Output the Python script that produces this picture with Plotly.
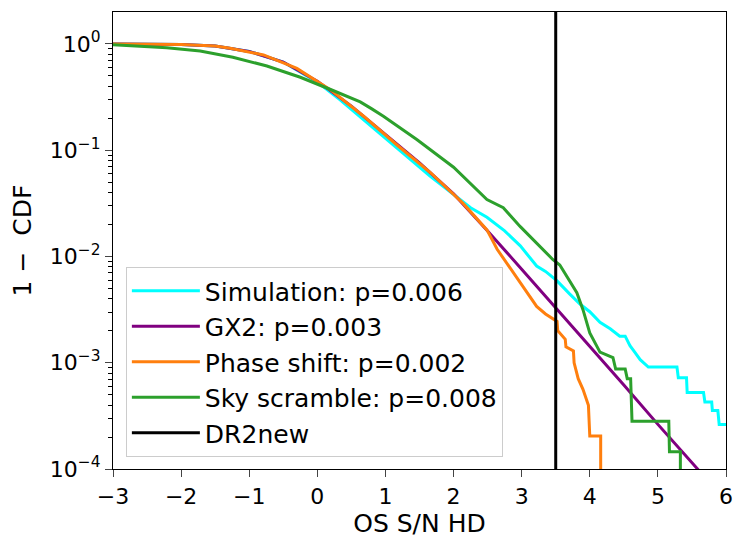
import plotly.graph_objects as go

# Simulation (cyan)
sim_x = [-3.0, -2.5, -2.0, -1.5, -1.0, -0.5, 0.0, 0.33, 0.68, 1.17, 1.65, 2.0, 2.25, 2.49, 2.75,
         2.98, 3.1, 3.22, 3.35, 3.52, 3.70, 3.86, 4.0, 4.15, 4.30, 4.44, 4.52, 4.59, 4.66, 4.74,
         4.86, 5.28, 5.30, 5.42, 5.43, 5.67, 5.69, 5.79, 5.80, 5.88, 5.90, 6.05]
sim_y = [1.0, 0.998, 0.989, 0.955, 0.851, 0.676, 0.437, 0.299, 0.195, 0.105, 0.0575, 0.038, 0.0288,
         0.0234, 0.0174, 0.0126, 0.01, 0.00813, 0.00724, 0.00589, 0.00447, 0.00355, 0.00302, 0.0024,
         0.00209, 0.00178, 0.00178, 0.00145, 0.00126, 0.00107, 0.000912, 0.000912, 0.000724,
         0.000724, 0.000525, 0.000525, 0.000427, 0.000427, 0.000355, 0.000355, 0.000263, 0.000263]

# GX2 (purple)
gx2_x = [-3.0, -2.5, -2.0, -1.5, -1.0, -0.5, 0.0, 0.5, 1.0, 1.5, 2.0, 2.5, 3.0, 3.5, 4.0, 4.5,
         5.0, 5.55, 6.0]
gx2_y = [1.0, 0.998, 0.989, 0.955, 0.851, 0.676, 0.447, 0.26, 0.1396, 0.0759, 0.0389, 0.0174,
         0.00759, 0.00331, 0.00141, 0.000617, 0.000263, 0.000105, 5.0e-5]

# Phase shift (orange)
phase_x = [-3.0, -2.5, -2.0, -1.5, -1.28, -0.79, -0.30, 0.19, 0.68, 1.17, 1.66, 2.14, 2.49, 2.64,
           2.80, 2.98, 3.10, 3.22, 3.35, 3.46, 3.52, 3.53, 3.64, 3.65, 3.76, 3.77, 3.83, 3.90,
           3.93, 3.98, 4.00, 4.16, 4.16]
phase_y = [1.0, 0.998, 0.989, 0.955, 0.910, 0.789, 0.589, 0.372, 0.209, 0.112, 0.0617, 0.0316,
           0.0178, 0.0117, 0.00832, 0.00575, 0.00437, 0.00339, 0.00288, 0.00257, 0.00245, 0.0020,
           0.00166, 0.00141, 0.00129, 0.0010, 0.000708, 0.000562, 0.00049, 0.000398, 0.000204,
           0.000204, 1e-6]

# Sky scramble (green)
sky_x = [-3.0, -2.21, -1.72, -1.24, -0.74, -0.25, 0.23, 0.45, 0.63, 0.80, 0.97, 1.46, 2.0, 2.49,
         2.73, 2.98, 3.22, 3.46, 3.56, 3.66, 3.81, 3.90, 4.0, 4.15, 4.34, 4.38, 4.52, 4.55, 4.60,
         4.62, 5.16, 5.17, 5.33, 5.33]
sky_y = [0.982, 0.923, 0.859, 0.75, 0.621, 0.486, 0.365, 0.32, 0.285, 0.245, 0.209, 0.126, 0.0692,
         0.0343, 0.0288, 0.0191, 0.0135, 0.00933, 0.00832, 0.00661, 0.00457, 0.00316, 0.00191,
         0.00126, 0.00112, 0.000871, 0.000871, 0.000708, 0.000708, 0.000282, 0.000282, 0.000145,
         0.000145, 1e-6]

dr2_value = 3.5

y_tickvals = [1e-4, 1e-3, 1e-2, 1e-1, 1]
y_ticktext = ["10<sup>−4</sup>", "10<sup>−3</sup>", "10<sup>−2</sup>", "10<sup>−1</sup>", "10<sup>0</sup>"]
y_minor = [m * 10 ** e for e in range(-4, 0) for m in range(2, 10)]

font_family = "DejaVu Sans"

fig = go.Figure()
series = [
    ("Simulation: p=0.006", sim_x, sim_y, "#00ffff"),
    ("GX2: p=0.003", gx2_x, gx2_y, "#800080"),
    ("Phase shift: p=0.002", phase_x, phase_y, "#ff7f0e"),
    ("Sky scramble: p=0.008", sky_x, sky_y, "#2ca02c"),
]
for name, xs, ys, col in series:
    fig.add_trace(go.Scatter(x=xs, y=ys, mode="lines", name=name, legendgroup=name,
                             line=dict(color=col, width=3)))
fig.add_trace(go.Scatter(x=[dr2_value, dr2_value], y=[1e-6, 10], mode="lines", name="DR2new",
                         legendgroup="DR2new", line=dict(color="black", width=3)))

# page body adds an 8px offset, so margins are shifted to compensate
fig.update_layout(
    width=747, height=548,
    margin=dict(l=105, r=29, t=4, b=87),
    plot_bgcolor="white", paper_bgcolor="white",
    font=dict(family=font_family, size=22, color="black"),
    showlegend=True,
    legend=dict(x=0.021, y=0.026, xanchor="left", yanchor="bottom",
                bgcolor="rgba(255,255,255,0.8)", bordercolor="#cccccc", borderwidth=1,
                font=dict(size=25), tracegroupgap=0, itemwidth=68),
    xaxis=dict(range=[-3, 6], dtick=1, ticks="outside", ticklen=7, tickwidth=1.3,
               showline=True, linecolor="black", linewidth=1.3, mirror=True,
               showgrid=False, zeroline=False, automargin=False,
               title=dict(text="OS S/N HD", font=dict(size=25), standoff=6)),
    yaxis=dict(type="log", range=[-4, 0.301], tickvals=y_tickvals, ticktext=y_ticktext,
               ticks="outside", ticklen=7, tickwidth=1.3,
               minor=dict(tickvals=y_minor, ticks="outside", ticklen=4, tickwidth=1, tickcolor="black"),
               showline=True, linecolor="black", linewidth=1.3, mirror=True,
               showgrid=False, zeroline=False, automargin=False,
               title=dict(text="1 −  CDF", font=dict(size=25), standoff=12)),
)

fig.write_html("out.html")
